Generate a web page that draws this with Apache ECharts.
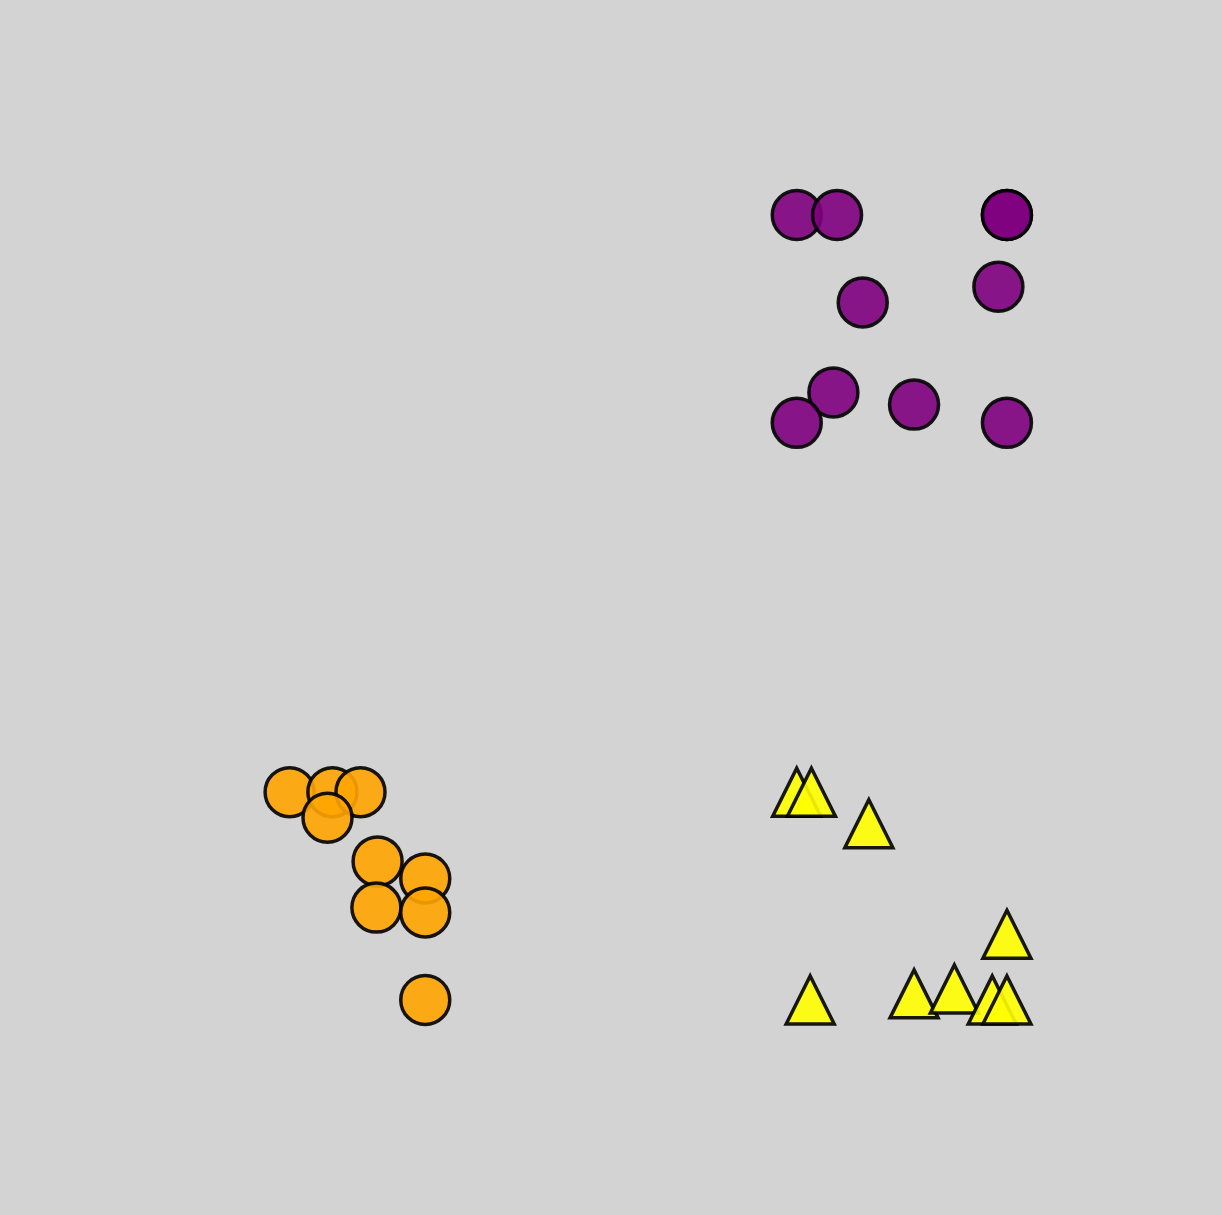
<!DOCTYPE html>
<html>
<head>
<meta charset="utf-8">
<script src="https://cdn.jsdelivr.net/npm/echarts@6/dist/echarts.min.js"></script>
<style>html,body{margin:0;padding:0;background:#d3d3d3;}#c{width:1222px;height:1215px;}</style>
</head>
<body>
<div id="c"></div>
<script>
// values in abstract plot units (0-100 on both axes)
const purpleX = [65.2, 68.5, 82.4, 82.4, 81.7, 70.6, 68.2, 65.2, 74.8, 82.4];
const purpleY = [82.3, 82.3, 82.3, 82.3, 76.4, 75.1, 67.7, 65.2, 66.7, 65.2];
const orangeX = [23.7, 27.2, 29.5, 26.8, 30.9, 34.8, 30.8, 34.8, 34.8];
const orangeY = [34.8, 34.8, 34.8, 32.7, 29.1, 27.7, 25.3, 24.9, 17.7];
const yellowX = [65.2, 66.4, 71.1, 82.4, 66.3, 74.8, 78.1, 81.2, 82.4];
const yellowY = [34.8, 34.8, 32.2, 23.1, 17.7, 18.2, 18.6, 17.7, 17.7];

const zip = (xs, ys) => xs.map((x, i) => [x, ys[i]]);
const chart = echarts.init(document.getElementById('c'));
const base = (color) => ({ color: color, borderColor: '#000', borderWidth: 3.5, opacity: 0.9 });
chart.setOption({
  backgroundColor: '#d3d3d3',
  animation: false,
  grid: { left: 0, right: 0, top: 0, bottom: 0 },
  xAxis: { type: 'value', min: 0, max: 100, show: false },
  yAxis: { type: 'value', min: 0, max: 100, show: false },
  series: [
    { type: 'scatter', symbol: 'circle', symbolSize: 49, data: zip(purpleX, purpleY), itemStyle: base('#800080') },
    { type: 'scatter', symbol: 'circle', symbolSize: 49, data: zip(orangeX, orangeY), itemStyle: base('#ffa500') },
    { type: 'scatter', symbol: 'triangle', symbolSize: 48, data: zip(yellowX, yellowY), itemStyle: base('#ffff00') }
  ]
});
</script>
</body>
</html>
